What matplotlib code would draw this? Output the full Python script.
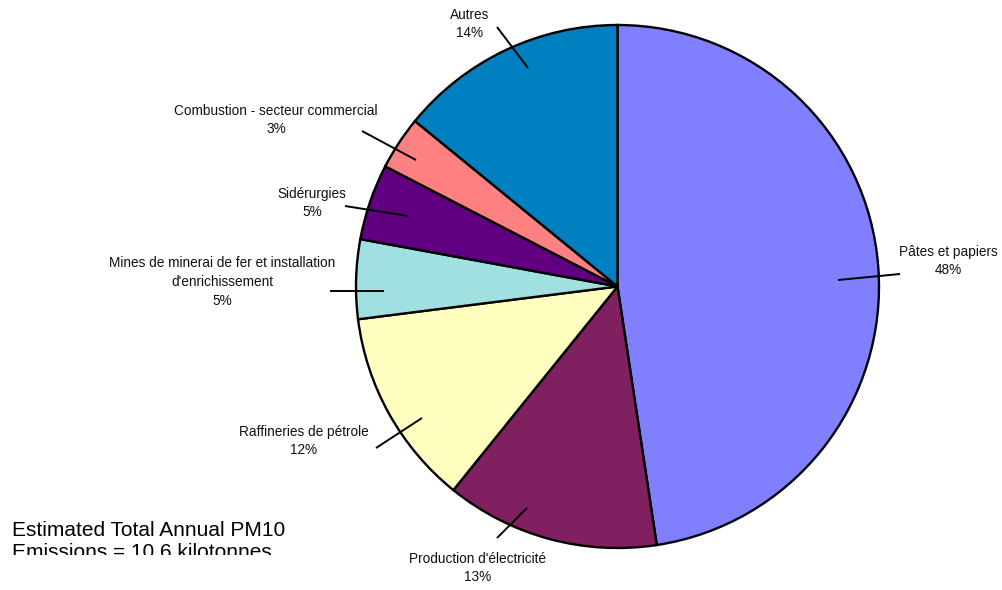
import matplotlib
matplotlib.use("Agg")
import matplotlib.pyplot as plt
import numpy as np

plt.rcParams['font.family'] = ['Liberation Sans', 'DejaVu Sans']

# ---- data ----
categories = ["Pâtes et papiers", "Production d'électricité", "Raffineries de pétrole",
              "Mines de minerai de fer et installation\nd'enrichissement", "Sidérurgies",
              "Combustion - secteur commercial", "Autres"]
values = [47.6, 13.2, 12.2, 4.9, 4.7, 3.3, 14.1]
pct_labels = ["48%", "13%", "12%", "5%", "5%", "3%", "14%"]
colors = ["#8080FF", "#802060", "#FFFFC0", "#A0E0E0", "#600080", "#FF8080", "#0080C0"]
note_lines = ["Estimated Total Annual PM10", "Emissions = 10.6 kilotonnes"]

W, H = 1002, 590
fig = plt.figure(figsize=(W / 100, H / 100), dpi=100)
ax = fig.add_axes([0, 0, 1, 1])

def py(y):  # pixel-from-top to data y
    return H - y

cx, cy, R = 617.5, py(286.5), 261.5
wedges, _ = ax.pie(values, colors=colors, startangle=90, counterclock=False,
                   center=(cx, cy), radius=R,
                   wedgeprops=dict(edgecolor='black', linewidth=1.7), frame=True)
ax.set_xlim(0, W)
ax.set_ylim(0, H)
ax.set_aspect('equal')
ax.axis('off')

# label layout: label block centers and leader line endpoints (pixels from top-left)
label_pos = [(948, 261), (478, 568), (304, 441), (222, 282), (312, 203), (276, 120), (470, 24)]
leader = [((838, 280), (900, 274)),
          ((527, 508), (497, 538)),
          ((422, 418), (376, 448)),
          ((384, 291), (330, 291)),
          ((408, 216), (345, 206)),
          ((416, 160), (362, 131)),
          ((528, 68), (497, 27))]

for cat, pct, (lx, ly), ((x0, y0), (x1, y1)) in zip(categories, pct_labels, label_pos, leader):
    ax.plot([x0, x1], [py(y0), py(y1)], color='black', lw=1.4, solid_capstyle='butt')
    ax.text(lx, py(ly), cat + "\n" + pct, ha='center', va='center', fontsize=9.8,
            linespacing=1.45, color='#111111')

# clipped note at bottom-left
ax2 = fig.add_axes([0, (H - 555) / H, 0.4, 60 / H])
ax2.set_xlim(0, 0.4 * W)
ax2.set_ylim(555, 495)
ax2.axis('off')
ax2.text(12, 536, note_lines[0], fontsize=15, va='baseline', ha='left', clip_on=True)
ax2.text(12, 558, note_lines[1], fontsize=15, va='baseline', ha='left', clip_on=True)

fig.savefig("out.png", dpi=100)
